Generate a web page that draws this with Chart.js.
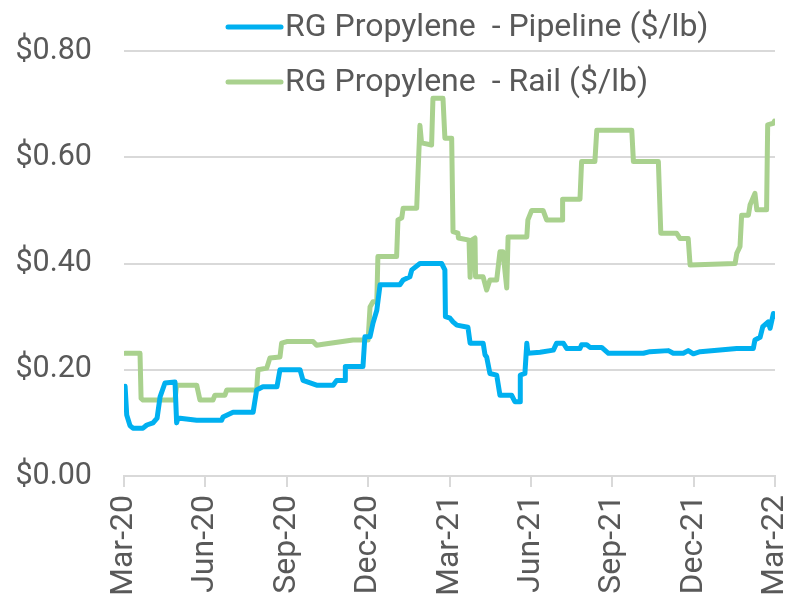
<!DOCTYPE html>
<html>
<head>
<meta charset="utf-8">
<script src="https://cdn.jsdelivr.net/npm/chart.js@4.4.1/dist/chart.umd.min.js"></script>
<style>
  html, body { margin: 0; padding: 0; background: #fff; }
  #wrap { width: 790px; height: 599px; position: relative; }
</style>
</head>
<body>
<div id="wrap"><canvas id="c"></canvas></div>
<script>
// x values are months after Mar-20 (0 = Mar-20, 24 = Mar-22)
const xTickLabels = ['Mar-20', 'Jun-20', 'Sep-20', 'Dec-20', 'Mar-21', 'Jun-21', 'Sep-21', 'Dec-21', 'Mar-22'];

const pipelineMonths = [0.04, 0.10, 0.22, 0.33, 0.70, 0.84, 1.07, 1.22, 1.33, 1.51, 1.88, 1.94, 1.99, 2.68, 3.60, 3.65, 4.02, 4.76,
  4.89, 5.12, 5.64, 5.75, 6.49, 6.60, 7.10, 7.71, 7.84, 8.15, 8.16, 8.81, 8.88, 9.07, 9.18, 9.32, 9.44, 10.17, 10.29, 10.54,
  10.61, 10.91, 11.71, 11.83, 11.85, 12.02, 12.13, 12.27, 12.68, 12.76, 13.24, 13.31, 13.37, 13.49, 13.74, 13.86, 14.29, 14.41,
  14.60, 14.61, 14.78, 14.85, 14.89, 15.34, 15.83, 15.95, 16.20, 16.32, 16.81, 16.87, 17.06, 17.18, 17.61, 17.86, 19.15, 19.39,
  20.07, 20.25, 20.62, 20.80, 20.99, 21.24, 21.97, 22.59, 23.20, 23.26, 23.45, 23.55, 23.75, 23.82, 23.94, 23.98];
const pipelineValues = [0.169, 0.115, 0.095, 0.090, 0.090, 0.096, 0.100, 0.109, 0.149, 0.175, 0.177, 0.100, 0.109, 0.105, 0.105, 0.111, 0.120, 0.120,
  0.162, 0.168, 0.168, 0.200, 0.200, 0.180, 0.171, 0.171, 0.180, 0.180, 0.206, 0.206, 0.262, 0.262, 0.288, 0.312, 0.360, 0.360, 0.369, 0.375,
  0.388, 0.400, 0.400, 0.388, 0.300, 0.297, 0.290, 0.284, 0.280, 0.250, 0.250, 0.228, 0.224, 0.193, 0.190, 0.152, 0.152, 0.140,
  0.140, 0.190, 0.193, 0.250, 0.231, 0.233, 0.237, 0.250, 0.250, 0.240, 0.240, 0.247, 0.247, 0.242, 0.242, 0.231, 0.231, 0.234,
  0.236, 0.231, 0.231, 0.236, 0.230, 0.234, 0.237, 0.240, 0.240, 0.256, 0.261, 0.281, 0.290, 0.278, 0.306, 0.300];

const railMonths = [0.04, 0.59, 0.63, 0.70, 1.88, 1.94, 2.68, 2.80, 3.28, 3.35, 3.72, 3.79, 4.89, 4.94, 5.26, 5.38, 5.75, 5.81,
  6.00, 6.97, 7.10, 7.34, 8.44, 9.00, 9.07, 9.18, 9.32, 9.36, 10.05, 10.10, 10.24, 10.29, 10.79, 10.84, 10.91, 10.97, 11.34,
  11.39, 11.76, 11.83, 12.08, 12.13, 12.31, 12.33, 12.72, 12.76, 12.82, 12.94, 12.96, 13.24, 13.37, 13.49, 13.74, 13.86, 13.97,
  14.11, 14.16, 14.85, 14.89, 15.03, 15.45, 15.58, 16.15, 16.17, 16.81, 16.87, 17.36, 17.43, 18.72, 18.78, 19.70, 19.79, 20.37,
  20.50, 20.80, 20.87, 22.53, 22.59, 22.71, 22.77, 23.02, 23.08, 23.26, 23.33, 23.69, 23.73, 23.94, 23.98];
const railValues = [0.231, 0.231, 0.146, 0.143, 0.143, 0.171, 0.171, 0.143, 0.143, 0.152, 0.152, 0.162, 0.162, 0.200, 0.203, 0.222, 0.224, 0.250,
  0.253, 0.253, 0.246, 0.248, 0.256, 0.256, 0.318, 0.328, 0.328, 0.413, 0.413, 0.482, 0.486, 0.504, 0.504, 0.570, 0.660, 0.627, 0.623,
  0.711, 0.711, 0.636, 0.636, 0.460, 0.457, 0.448, 0.444, 0.374, 0.444, 0.448, 0.375, 0.375, 0.350, 0.369, 0.369, 0.422, 0.422,
  0.354, 0.450, 0.450, 0.482, 0.500, 0.500, 0.482, 0.482, 0.521, 0.521, 0.592, 0.592, 0.651, 0.651, 0.592, 0.592, 0.457, 0.457,
  0.447, 0.447, 0.397, 0.400, 0.419, 0.432, 0.491, 0.491, 0.510, 0.532, 0.501, 0.501, 0.661, 0.664, 0.668];

const seriesNames = ['RG Propylene  - Pipeline ($/lb)', 'RG Propylene  - Rail ($/lb)'];
const seriesColors = ['#00b0f0', '#a9d18e'];

const TEXT = '#595959', GRID = '#d9d9d9';
const pts = (xs, ys) => xs.map((x, i) => ({ x, y: ys[i] }));

// legend sits over the top of the plot, stacked, left-aligned
const insideLegend = {
  id: 'insideLegend',
  afterDraw(chart) {
    const c = chart.ctx;
    const rows = [27, 82];
    c.save();
    c.font = '32px Roboto';
    c.textBaseline = 'middle';
    c.fillStyle = TEXT;
    chart.data.datasets.forEach((ds, i) => {
      c.strokeStyle = ds.borderColor; c.lineWidth = 5; c.lineCap = 'round';
      c.beginPath(); c.moveTo(228, rows[i]); c.lineTo(281, rows[i]); c.stroke();
      c.fillText(ds.label, 285, rows[i] + 1);
    });
    c.restore();
  }
};

function draw() {
  Chart.defaults.font.family = 'Roboto';
  Chart.defaults.color = TEXT;
  new Chart(document.getElementById('c'), {
    type: 'line',
    data: { datasets: [
      { label: seriesNames[0], data: pts(pipelineMonths, pipelineValues), borderColor: seriesColors[0] },
      { label: seriesNames[1], data: pts(railMonths, railValues), borderColor: seriesColors[1] },
    ]},
    options: {
      responsive: true, maintainAspectRatio: false, animation: false,
      layout: { padding: { top: 51, right: 15, left: 0, bottom: 0 } },
      elements: { line: { borderWidth: 5, tension: 0, borderJoinStyle: 'round', borderCapStyle: 'round' }, point: { radius: 0 } },
      plugins: { legend: { display: false }, tooltip: { enabled: false } },
      scales: {
        x: { type: 'linear', min: 0, max: 24,
             afterFit: s => { s.height = 123; s.paddingLeft = 0; s.paddingRight = 0; },
             ticks: { stepSize: 3, autoSkip: false, minRotation: 90, maxRotation: 90, padding: 8,
                      font: { size: 32 }, callback: v => xTickLabels[v / 3] ?? '' },
             grid: { drawOnChartArea: false, drawTicks: true, tickLength: 11, color: GRID, lineWidth: 2 },
             border: { color: GRID, width: 2 } },
        y: { min: 0, max: 0.8,
             afterFit: s => { s.width = 124; s.paddingTop = 0; s.paddingBottom = 0; },
             ticks: { stepSize: 0.2, padding: 32, font: { size: 30.5 }, callback: v => '$' + v.toFixed(2) },
             grid: { color: GRID, lineWidth: 2, drawTicks: false },
             border: { display: false } }
      }
    },
    plugins: [insideLegend]
  });
}

document.fonts.load('32px Roboto').then(draw, draw);
</script>
</body>
</html>
